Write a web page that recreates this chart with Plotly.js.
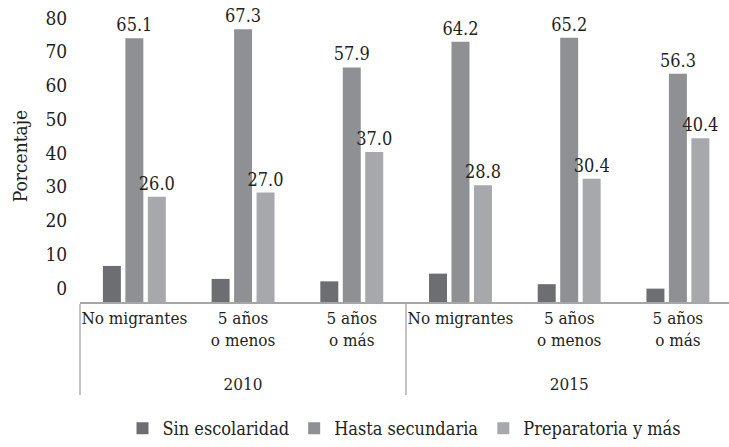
<!DOCTYPE html>
<html>
<head>
<meta charset="utf-8">
<script src="https://cdn.plot.ly/plotly-3.0.1.min.js"></script>
<style>html,body{margin:0;padding:0;background:#fff;}#chart{width:729px;height:447px;}</style>
</head>
<body>
<div id="chart"></div>
<script>
// Data
const years = ['2010', '2010', '2010', '2015', '2015', '2015'];
const groups = ['No migrantes', '5 años<br>o menos<br>\u00a0', '5 años<br>o más<br>\u00a0', 'No migrantes', '5 años<br>o menos<br>\u00a0', '5 años<br>o más<br>\u00a0'];
const sinEscolaridad = [8.9, 5.7, 5.1, 7.0, 4.4, 3.3];
const hastaSecundaria = [65.1, 67.3, 57.9, 64.2, 65.2, 56.3];
const preparatoria = [26.0, 27.0, 37.0, 28.8, 30.4, 40.4];
const seriesNames = ['Sin escolaridad', 'Hasta secundaria', 'Preparatoria y más'];

const FONT = 'DejaVu Serif Condensed';
const TXT = '#231f20';
const x = [years, groups];

const traces = [
  {type: 'bar', name: seriesNames[0], x: x, y: sinEscolaridad,
   marker: {color: '#6d6e71'}, hoverinfo: 'y'},
  {type: 'bar', name: seriesNames[1], x: x, y: hastaSecundaria,
   marker: {color: '#8f9094'}, text: hastaSecundaria.map(v => v.toFixed(1)),
   textposition: 'outside', cliponaxis: false, constraintext: 'none',
   textfont: {family: FONT, size: 18, color: TXT}},
  {type: 'bar', name: seriesNames[2], x: x, y: preparatoria,
   marker: {color: '#a7a8ab'}, text: preparatoria.map(v => v.toFixed(1)),
   textposition: 'outside', cliponaxis: false, constraintext: 'none',
   textfont: {family: FONT, size: 18, color: TXT}},
  {type: 'scatter', x: x, y: hastaSecundaria, yaxis: 'y2', mode: 'none',
   showlegend: false, hoverinfo: 'skip'}
];

const layout = {
  width: 729, height: 447,
  margin: {l: 80, r: 0, t: 10, b: 143},
  paper_bgcolor: '#fff', plot_bgcolor: '#fff',
  font: {family: FONT, color: TXT, size: 17},
  barmode: 'group', bargap: 0.38, bargroupgap: 0.2,
  showlegend: true,
  legend: {orientation: 'h', x: 0.5, xanchor: 'center', y: -0.435, yanchor: 'middle',
           font: {family: FONT, size: 18, color: TXT}, itemwidth: 30, traceorder: 'normal'},
  xaxis: {type: 'multicategory', range: [-0.5, 5.47], showline: true, linecolor: '#a6a6a6', linewidth: 1.5,
          showdividers: true, dividercolor: '#c4c4c4', dividerwidth: 1.5, tickangle: 0,
          tickfont: {family: FONT, size: 17, color: TXT}, ticks: '', showgrid: false, zeroline: false},
  yaxis: {range: [0, 72.06], visible: false, showgrid: false, zeroline: false, fixedrange: true},
  yaxis2: {overlaying: 'y', side: 'left', range: [-4.12, 82.35], tick0: 0, dtick: 10,
           showgrid: false, zeroline: false, showline: false,
           ticks: 'outside', ticklen: 8, tickcolor: 'rgba(0,0,0,0)',
           tickfont: {family: FONT, size: 19, color: TXT},
           title: {text: 'Porcentaje', font: {family: FONT, size: 19, color: TXT}, standoff: 12}}
};

Plotly.newPlot('chart', traces, layout, {displayModeBar: false, staticPlot: true});
</script>
</body>
</html>
